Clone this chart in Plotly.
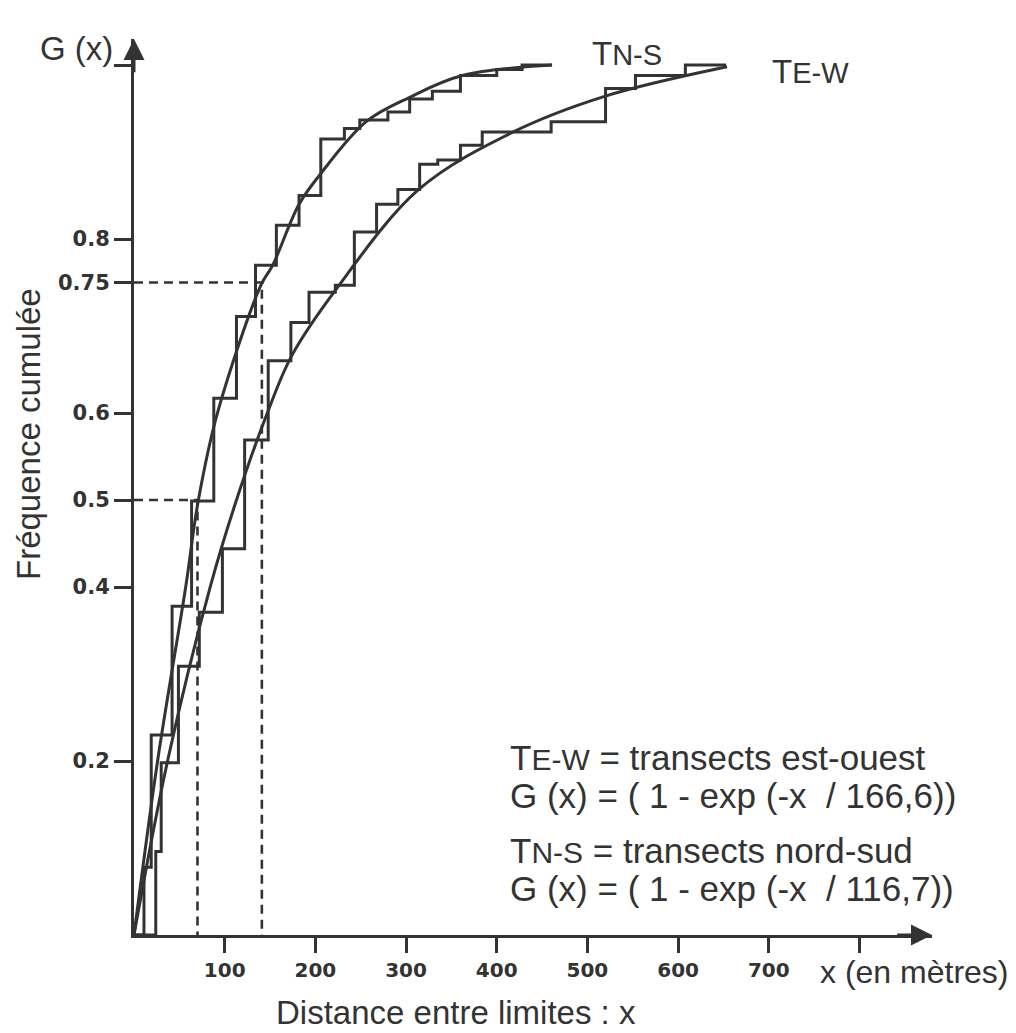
import plotly.graph_objects as go

# ---------------- data ----------------
# Empirical step functions: jump positions (m) and cumulative levels
ns_step_x = [0, 11, 19, 42, 63.5, 88, 113, 134, 157, 182, 206, 232, 249, 280, 304, 329, 360, 400, 428, 461]
ns_step_g = [0, 0.078, 0.230, 0.378, 0.499, 0.617, 0.711, 0.770, 0.816, 0.850, 0.915, 0.927, 0.937, 0.946,
             0.961, 0.970, 0.988, 0.995, 1.0, 1.0]

ew_step_x = [0, 24, 30, 49, 72, 97.5, 122, 148, 173, 193, 222, 243, 267.5, 291, 315, 335, 360, 384, 460,
             520, 553, 608, 653]
ew_step_g = [0, 0.096, 0.198, 0.309, 0.371, 0.444, 0.569, 0.660, 0.704, 0.739, 0.747, 0.808, 0.840, 0.857,
             0.886, 0.891, 0.908, 0.923, 0.935, 0.973, 0.988, 1.0, 1.0]

# Fitted curves
ns_curve_x = [0, 26, 57, 71, 92, 140, 153, 182, 205, 256, 304, 362, 461]
ns_curve_g = [0, 0.2, 0.4, 0.5, 0.6, 0.747, 0.77, 0.84, 0.874, 0.935, 0.963, 0.988, 1.0]

ew_curve_x = [0, 37, 84, 113, 147, 174, 222, 314, 416, 519, 654]
ew_curve_g = [0, 0.2, 0.4, 0.5, 0.6, 0.666, 0.741, 0.857, 0.922, 0.964, 0.998]

# Dashed reading lines
ref_x = [70, 141]
ref_g = [0.5, 0.75]

x_tick_vals = [100, 200, 300, 400, 500, 600, 700, 800]
x_tick_text = ["100", "200", "300", "400", "500", "600", "700", ""]
y_tick_vals = [0.2, 0.4, 0.5, 0.6, 0.75, 0.8, 1.0]
y_tick_text = ["0.2", "0.4", "0.5", "0.6", "0.75", "0.8", ""]

# ---------------- layout geometry ----------------
W, H = 1016, 1033
ML, MB = 134, 98
XMAX, YMAX = 880, 1.03
PW = 798
PH = 896
MR = W - ML - PW
MT = H - MB - PH

INK = "#333333"
FONT = "Liberation Sans, Arial, sans-serif"


def px(x):
    return (x - ML) / PW


def py(y):
    return (H - MB - y) / PH


fig = go.Figure()

line_style = dict(color=INK, width=3)

fig.add_trace(go.Scatter(x=ns_step_x, y=ns_step_g, mode="lines", line=dict(shape="hv", **line_style),
                         hoverinfo="skip", showlegend=False))
fig.add_trace(go.Scatter(x=ew_step_x, y=ew_step_g, mode="lines", line=dict(shape="hv", **line_style),
                         hoverinfo="skip", showlegend=False))
fig.add_trace(go.Scatter(x=ns_curve_x, y=ns_curve_g, mode="lines",
                         line=dict(shape="spline", smoothing=1.0, **line_style),
                         hoverinfo="skip", showlegend=False))
fig.add_trace(go.Scatter(x=ew_curve_x, y=ew_curve_g, mode="lines",
                         line=dict(shape="spline", smoothing=1.0, **line_style),
                         hoverinfo="skip", showlegend=False))

# dashed reading lines
for rx, rg in zip(ref_x, ref_g):
    fig.add_trace(go.Scatter(x=[0, rx, rx], y=[rg, rg, 0], mode="lines",
                             line=dict(color=INK, width=2.6, dash="9px,6px"),
                             hoverinfo="skip", showlegend=False))

annotations = []
# axis arrows
annotations.append(dict(x=XMAX, y=0, ax=XMAX - 40, ay=0, xref="x", yref="y", axref="x", ayref="y",
                        showarrow=True, arrowhead=2, arrowsize=1.4, arrowwidth=3, arrowcolor=INK, text=""))
annotations.append(dict(x=0, y=YMAX, ax=0, ay=YMAX - 0.04, xref="x", yref="y", axref="x", ayref="y",
                        showarrow=True, arrowhead=2, arrowsize=1.4, arrowwidth=3, arrowcolor=INK, text=""))


def txt(s, x, y, xanchor="left", size=35, angle=0):
    annotations.append(dict(text=s, x=px(x), y=py(y), xref="paper", yref="paper",
                            xanchor=xanchor, yanchor="middle", showarrow=False, textangle=angle,
                            font=dict(family=FONT, size=size, color=INK)))


def tlabel(a, b, small=30):
    return "T<span style='font-size:%dpx'>%s-%s</span>" % (small, a, b)


txt("G (x)", 76, 48, xanchor="center", size=33)
txt(tlabel("N", "S", 29), 590, 54, size=33)
txt(tlabel("E", "W", 29), 770, 72, size=33)
txt("x (en mètres)", 818, 972, size=32)
txt("Distance entre limites : x", 456, 1012, xanchor="center", size=33)
txt("Fréquence cumulée", 28, 434, xanchor="center", angle=-90, size=33)
txt(tlabel("E", "W") + " = transects est-ouest", 508, 757)
txt("G (x) = ( 1 - exp (-x  / 166,6))", 508, 795)
txt(tlabel("N", "S") + " = transects nord-sud", 508, 850)
txt("G (x) = ( 1 - exp (-x  / 116,7))", 508, 888)

fig.update_layout(
    width=W, height=H,
    margin=dict(l=ML, r=MR, t=MT, b=MB, pad=0),
    plot_bgcolor="white", paper_bgcolor="white",
    annotations=annotations,
    xaxis=dict(range=[0, XMAX], showgrid=False, zeroline=False, showline=True, linecolor=INK, linewidth=3,
               ticks="outside", ticklen=15, tickwidth=2.5, tickcolor=INK,
               tickvals=x_tick_vals, ticktext=x_tick_text,
               tickfont=dict(family="DejaVu Sans", size=20, color=INK, weight="bold")),
    yaxis=dict(range=[0, YMAX], showgrid=False, zeroline=False, showline=True, linecolor=INK, linewidth=3,
               ticks="outside", ticklen=17, tickwidth=2.5, tickcolor=INK,
               tickvals=y_tick_vals, ticktext=y_tick_text,
               tickfont=dict(family="DejaVu Sans", size=21, color=INK, weight="bold")),
)

fig.write_html("out.html", config={"displayModeBar": False},
               post_script="document.body.style.margin='0px';document.body.style.overflow='hidden';")
